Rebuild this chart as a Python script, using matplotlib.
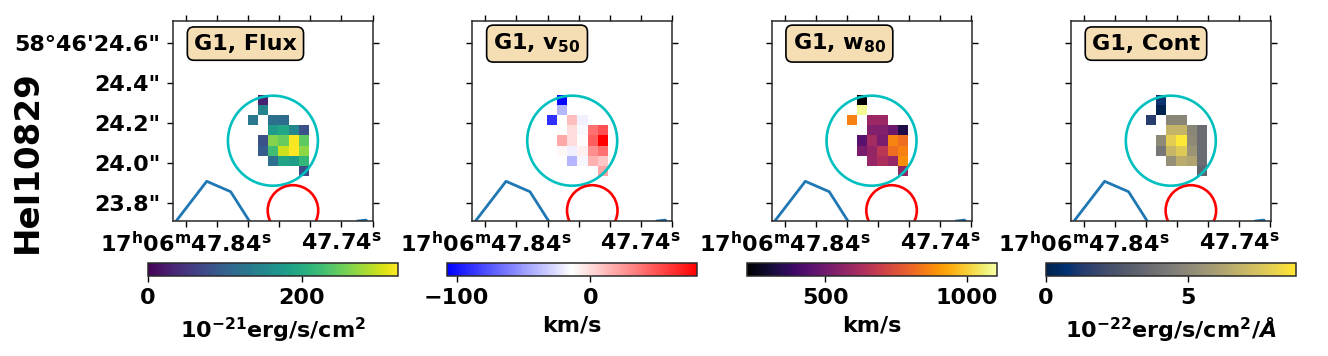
import numpy as np
import matplotlib
matplotlib.use('Agg')
import matplotlib.pyplot as plt
from matplotlib.patches import Ellipse

n = np.nan
titles = ['G1, Flux', r'G1, v$_{\mathbf{50}}$', r'G1, w$_{\mathbf{80}}$', 'G1, Cont']
cbar_labels = [r'$\mathbf{10^{-21}}$erg/s/cm$\mathbf{^{2}}$', 'km/s', 'km/s',
               r'$\mathbf{10^{-22}}$erg/s/cm$\mathbf{^{2}}$/$\mathbfit{\AA}$']
cmaps = ['viridis', 'bwr', 'inferno', 'cividis']
vmins = [0, -107, 222, 0]
vmaxs = [325, 80, 1105, 8.8]
cbar_ticks = [[0, 200], [-100, 0], [500, 1000], [0, 5]]

flux = [[n, 30, n, n, n, n],
        [n, 146, n, n, n, n],
        [130, n, 120, 115, n, n],
        [n, n, 180, 195, 150, 80],
        [n, 80, 265, 250, 322, 245],
        [n, 95, 225, 300, 325, 270],
        [n, n, 120, 190, 180, 215],
        [n, n, n, n, n, 75]]
v50 = [[n, -105, n, n, n, n],
       [n, -40, n, n, n, n],
       [-89, n, 10, -19, n, n],
       [n, n, -1, -16, 39, 50],
       [n, 18, -1, -13.5, 45, 80],
       [n, -10, -19, -8, 28, 39],
       [n, n, -40, -17, 15, 7],
       [n, n, n, n, n, 18]]
w80 = [[n, 225, n, n, n, n],
       [n, 1090, n, n, n, n],
       [858, n, 593, 590, n, n],
       [n, n, 540, 540, 490, 330],
       [n, 452, 610, 522, 866, 822],
       [n, 522, 575, 663, 822, 858],
       [n, n, 584, 628, 584, 885],
       [n, n, n, n, n, 575]]
cont = [[n, 0.9, n, n, n, n],
        [n, 0.1, n, n, n, n],
        [1.4, n, 4.9, 4.9, n, n],
        [n, n, 6.9, 6.9, 4.9, 3.7],
        [n, 5.1, 7.9, 8.8, 5.1, 3.7],
        [n, 4.2, 7.0, 7.7, 5.5, 3.7],
        [n, n, 5.3, 6.6, 6.2, 3.7],
        [n, n, n, n, n, 3.3]]
maps = [flux, v50, w80, cont]

cell_ra = (47.8001, 47.7611)
cell_dec = (23.935, 24.34)
contour_ra = [47.8503, 47.8267, 47.8113, 47.7960]
contour_dec = [23.67, 23.9085, 23.8565, 23.67]
contour2_ra = [47.7294, 47.7242, 47.7230]
contour2_dec = [23.71, 23.7145, 23.70]
cyan_circle = (47.7841, 24.1115, 0.0579, 0.45)
red_circle = (47.7712, 23.7625, 0.0325, 0.253)
ra_ticks = [47.84, 47.82, 47.80, 47.78, 47.76, 47.74, 47.72]
ra_labels = [r'17$\mathbf{^h}$06$\mathbf{^m}$47.84$\mathbf{^s}$', '', '', '', '',
             r'47.74$\mathbf{^s}$', '']
dec_ticks = [24.6, 24.4, 24.2, 24.0, 23.8]
dec_labels = ['58°46\'24.6"', '24.4"', '24.2"', '24.0"', '23.8"']
row_label = 'HeI10829'

W, H = 1328, 356
FS = 16
plt.rcParams.update({'font.family': 'DejaVu Sans', 'font.weight': 'bold',
                     'mathtext.fontset': 'dejavusans', 'mathtext.default': 'regular',
                     'axes.linewidth': 1.1, 'axes.edgecolor': '#2a2a2a'})
fig = plt.figure(figsize=(W / 100, H / 100), dpi=100)


def box(l, t, w, h):
    return [l / W, 1 - (t + h) / H, w / W, h / H]


for i in range(4):
    off = 299.3 * i
    ax = fig.add_axes(box(173 + off, 21, 200, 200))
    im = ax.imshow(np.array(maps[i], float), cmap=cmaps[i], vmin=vmins[i], vmax=vmaxs[i],
                   extent=(cell_ra[0], cell_ra[1], cell_dec[0], cell_dec[1]),
                   origin='upper', aspect='auto', interpolation='nearest')
    ax.set_xlim(47.8484, 47.7197)
    ax.set_ylim(23.71, 24.71)
    ax.plot(contour_ra, contour_dec, color='#1f77b4', lw=2)
    ax.plot(contour2_ra, contour2_dec, color='#1f77b4', lw=2)
    ax.add_patch(Ellipse(cyan_circle[:2], cyan_circle[2], cyan_circle[3], fill=False,
                         ec='c', lw=1.9))
    ax.add_patch(Ellipse(red_circle[:2], red_circle[2], red_circle[3], fill=False,
                         ec='r', lw=1.9))
    ax.set_xticks(ra_ticks)
    ax.set_xticklabels(ra_labels, fontsize=FS, fontweight='bold')
    ax.set_yticks(dec_ticks)
    ax.set_yticklabels(dec_labels if i == 0 else [''] * 5, fontsize=FS, fontweight='bold')
    ax.tick_params(axis='both', direction='out', length=4, width=1, top=True, right=True,
                   pad=5)
    ax.tick_params(axis='x', pad=3.5)
    ax.text(0.105, 0.887, titles[i], transform=ax.transAxes, fontsize=FS, fontweight='bold',
            ha='left', va='center',
            bbox=dict(boxstyle='round,pad=0.3', fc='wheat', ec='black', lw=1.2))

    cax = fig.add_axes(box(148 + off, 263, 250, 13))
    cb = fig.colorbar(im, cax=cax, orientation='horizontal', ticks=cbar_ticks[i])
    cb.ax.tick_params(labelsize=FS, length=4, width=1, pad=5)
    for t in cb.ax.get_xticklabels():
        t.set_fontweight('bold')
    cb.set_label(cbar_labels[i], fontsize=FS, fontweight='bold', labelpad=5)

fig.text(27 / W, 1 - 162 / H, row_label, rotation=90, fontsize=24.5, fontweight='bold',
         ha='center', va='center')
fig.savefig('out.png', dpi=100)
